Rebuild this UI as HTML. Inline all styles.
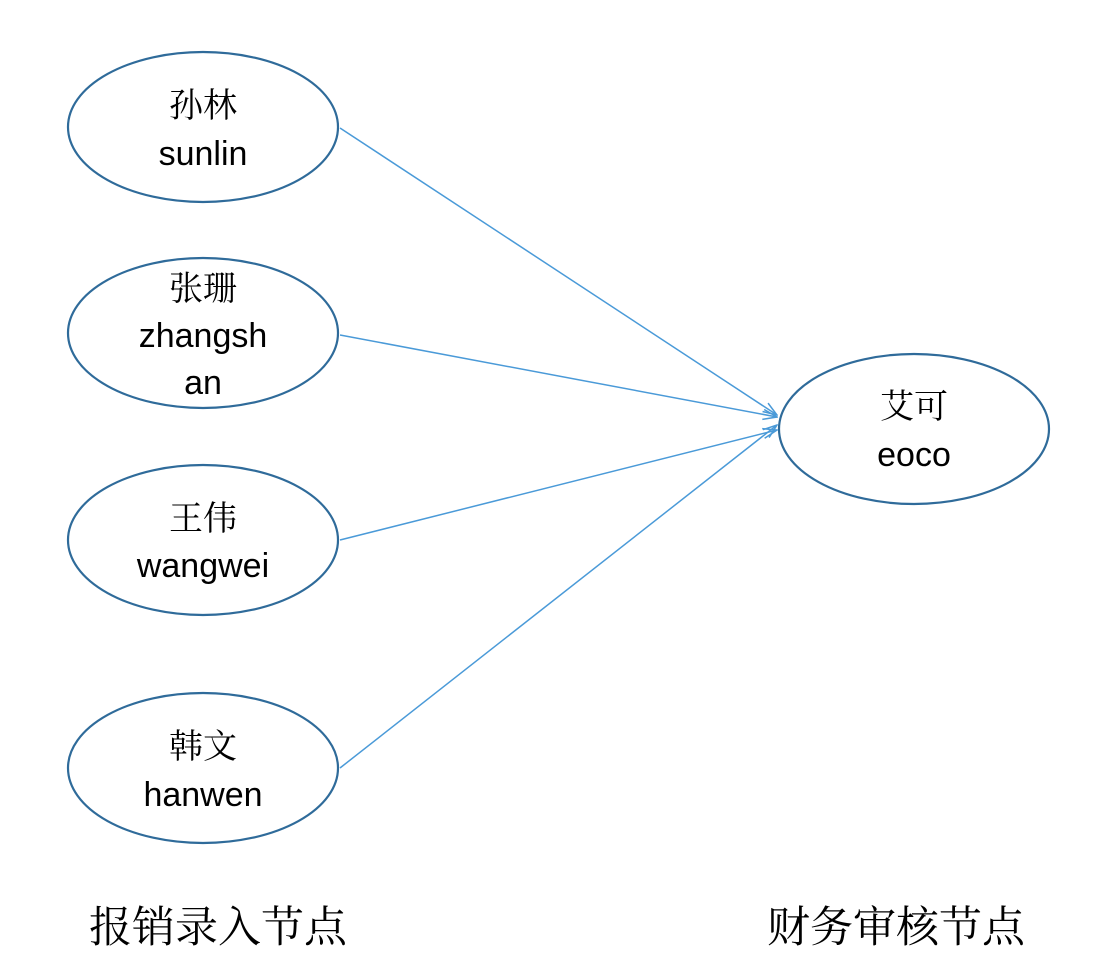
<html><body style="margin:0;background:#fff">
<svg width="1112" height="966" xmlns="http://www.w3.org/2000/svg">
<defs><marker id="a" markerWidth="16" markerHeight="12" refX="15" refY="6" orient="auto" markerUnits="userSpaceOnUse"><path d="M1,1 L15,6 L1,11" fill="none" stroke="#4a9ad8" stroke-width="1.5"/></marker></defs>
<g fill="#fff" stroke="#2f6b9a" stroke-width="2.2">
<ellipse cx="203" cy="127" rx="135" ry="75"/>
<ellipse cx="203" cy="333" rx="135" ry="75"/>
<ellipse cx="203" cy="540" rx="135" ry="75"/>
<ellipse cx="203" cy="768" rx="135" ry="75"/>
<ellipse cx="914" cy="429" rx="135" ry="75"/>
</g>
<g stroke="#4a9ad8" stroke-width="1.5" marker-end="url(#a)">
<line x1="340" y1="128" x2="777" y2="415"/>
<line x1="340" y1="335" x2="777" y2="417"/>
<line x1="340" y1="540" x2="777" y2="430"/>
<line x1="340" y1="768" x2="777" y2="425"/>
</g>
<g font-size="34" text-anchor="middle" fill="#000">
<g font-family="Liberation Serif, Noto Serif CJK SC, serif">
<text x="203" y="117">孙林</text>
<text x="203" y="300">张珊</text>
<text x="203" y="530">王伟</text>
<text x="203" y="758">韩文</text>
<text x="914" y="418">艾可</text>
<text x="218" y="942" font-size="43">报销录入节点</text>
<text x="896" y="942" font-size="43">财务审核节点</text>
</g>
<g font-family="Liberation Sans, sans-serif">
<text x="203" y="165">sunlin</text>
<text x="203" y="347">zhangsh</text>
<text x="203" y="394">an</text>
<text x="203" y="577">wangwei</text>
<text x="203" y="806">hanwen</text>
<text x="914" y="466">eoco</text>
</g></g>
</svg></body></html>
